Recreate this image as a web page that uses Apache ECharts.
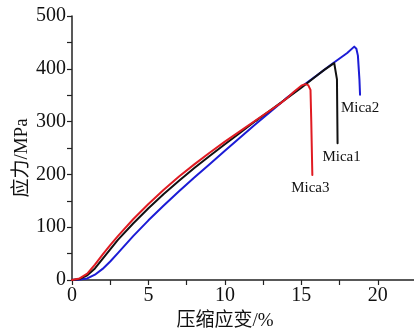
<!DOCTYPE html>
<html>
<head>
<meta charset="utf-8">
<script src="https://cdn.jsdelivr.net/npm/echarts@6/dist/echarts.min.js"></script>
<style>
  html, body { margin: 0; padding: 0; background: #fff; }
  #chart { width: 414px; height: 332px; }
</style>
</head>
<body>
<div id="chart"></div>
<script>
// strain (%) , stress (MPa)
const mica1 = [
  [0, 0], [0.5, 2], [1, 9], [1.5, 22], [2, 40], [2.5, 58], [3, 76], [4, 107],
  [5, 136], [6, 163], [7, 188], [8, 212], [9, 235], [10, 257], [11, 279],
  [12, 301], [13, 322], [14, 343], [15, 364], [16, 387], [16.5, 398],
  [17, 408], [17.15, 411], [17.28, 409], [17.33, 380], [17.37, 259]
];
const mica2 = [
  [0, 0], [0.5, 1], [1, 3], [1.5, 10], [2, 21], [2.5, 35], [3, 51], [4, 83],
  [5, 113], [6, 141], [7, 168], [8, 194], [9, 219], [10, 245], [11, 270],
  [12, 295], [13, 319], [13.7, 336], [14, 344], [15, 366], [16, 387],
  [17, 409], [18, 430], [18.46, 442], [18.6, 438], [18.7, 425], [18.8, 380],
  [18.84, 351]
];
const mica3 = [
  [0, 0], [0.5, 3], [1, 12], [1.5, 29], [2, 48], [2.5, 66], [3, 83], [4, 115],
  [5, 144], [6, 171], [7, 196], [8, 219], [9, 241], [10, 262], [11, 282],
  [12, 302], [13, 322], [13.7, 336], [14, 343], [14.5, 356], [15, 368],
  [15.25, 371], [15.45, 369], [15.6, 360], [15.65, 300], [15.72, 199]
];
const seriesNames = ['Mica1', 'Mica2', 'Mica3'];
const xTicks = [0, 5, 10, 15, 20];
const yTicks = [0, 100, 200, 300, 400, 500];

const serif = "'Liberation Serif', 'Times New Roman', 'Noto Sans CJK SC', serif";

function curve(name, data, color, offset) {
  return {
    name: name,
    type: 'line',
    data: data,
    showSymbol: false,
    smooth: false,
    lineStyle: { color: color, width: 2, join: 'round', cap: 'round' },
    markPoint: {
      symbol: 'circle',
      symbolSize: 0,
      silent: true,
      data: [{
        coord: data[data.length - 1],
        label: {
          show: true,
          position: 'inside',
          formatter: name,
          offset: offset,
          color: '#111',
          fontFamily: serif,
          fontSize: 15
        }
      }]
    }
  };
}

const chart = echarts.init(document.getElementById('chart'));
chart.setOption({
  animation: false,
  grid: { left: 72, top: 16, right: -2, bottom: 52, outerBoundsMode: 'none' },
  xAxis: {
    type: 'value',
    min: 0,
    max: 22.5,
    interval: 2.5,
    splitLine: { show: false },
    axisLine: { lineStyle: { color: '#222', width: 1.5 } },
    axisTick: { length: 5, lineStyle: { color: '#222', width: 1.2 } },
    axisLabel: {
      margin: 6,
      color: '#111',
      fontFamily: serif,
      fontSize: 20,
      formatter: (v) => xTicks.includes(v) ? String(v) : ''
    },
    name: '压缩应变/%',
    nameLocation: 'middle',
    nameGap: 32,
    nameMoveOverlap: false,
    nameTextStyle: { color: '#111', fontFamily: serif, fontSize: 19, padding: [0, 38, 0, 0] }
  },
  yAxis: {
    type: 'value',
    min: 0,
    max: 500,
    interval: 50,
    splitLine: { show: false },
    axisLine: { show: true, lineStyle: { color: '#222', width: 1.5 } },
    axisTick: { show: true, length: 5, lineStyle: { color: '#222', width: 1.2 } },
    axisLabel: {
      margin: 6,
      color: '#111',
      fontFamily: serif,
      fontSize: 20,
      formatter: (v) => yTicks.includes(v) ? String(v) : ''
    },
    name: '应力/MPa',
    nameLocation: 'middle',
    nameGap: 40,
    nameMoveOverlap: false,
    nameTextStyle: { color: '#111', fontFamily: serif, fontSize: 19, padding: [0, 20, 0, 0] }
  },
  series: [
    curve(seriesNames[1], mica2, '#1c1cd6', [0, 13]),
    curve(seriesNames[0], mica1, '#111111', [4, 14]),
    curve(seriesNames[2], mica3, '#e01b22', [-2, 13])
  ]
});
</script>
</body>
</html>
